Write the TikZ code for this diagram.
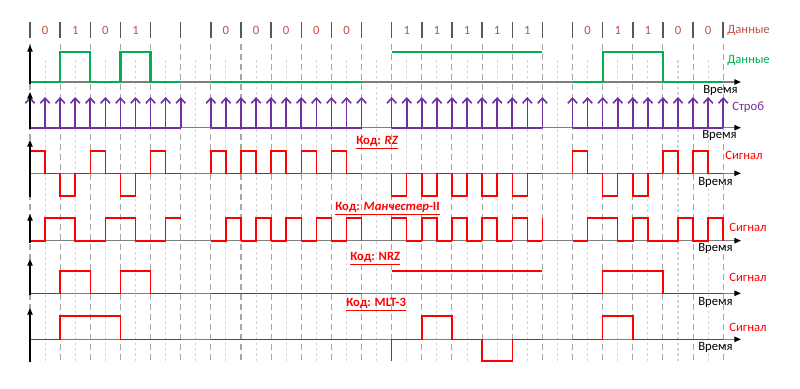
\documentclass[tikz,border=0pt]{standalone}
\usepackage{fontspec}
\setmainfont{Carlito}
\usepackage{tikz}
\usetikzlibrary{arrows.meta}
\definecolor{dataRed}{HTML}{C0504D}
\definecolor{dataGreen}{HTML}{00B050}
\definecolor{strobeViolet}{HTML}{7030A0}
\definecolor{codeRed}{HTML}{FF0000}
\definecolor{gridGray}{HTML}{A6A6A6}
\definecolor{gridLight}{HTML}{D4D4D4}
\definecolor{axisGray}{HTML}{7F7F7F}
\definecolor{tickGray}{HTML}{595959}

\begin{document}
\begin{tikzpicture}[x=0.75pt,y=-0.75pt,font=\fontsize{9.5}{11}\selectfont,
  bits/.style={x=22.605pt,xshift=22.5pt},
  majorgrid/.style={gridGray,line width=0.8pt,dash pattern=on 4.5pt off 3pt},
  minorgrid/.style={gridLight,line width=0.8pt,dash pattern=on 2pt off 2pt},
  bittick/.style={tickGray,line width=1.1pt},
  axisline/.style={axisGray,line width=1pt,-{Triangle[length=5pt,width=4pt,black]}},
  vaxis/.style={black,line width=0.8pt,-{Triangle[length=5pt,width=4pt]}},
  dataline/.style={dataGreen,line width=1.7pt},
  codeline/.style={codeRed,line width=1.1pt},
  strobearrow/.style={strobeViolet,line width=1.2pt,-{Straight Barb[length=3.8pt,width=7pt]}},
  rowlabel/.style={anchor=west,inner sep=0pt},
  codetitle/.style={rowlabel,codeRed,font=\fontsize{9.5}{11}\selectfont\bfseries},
  timelabel/.style={rowlabel,black},
  siglabel/.style={rowlabel,codeRed}]
\useasboundingbox (0,0) rectangle (800,389);
\begin{scope}[bits]
% grid
\foreach \i in {0,...,22}
  \draw[minorgrid] (\i+.5,60) -- (\i+.5,362);
\foreach \i in {0,...,23}{
  \draw[majorgrid] (\i,44) -- (\i,362);
  \draw[bittick] (\i,22) -- (\i,38);
}
% bit values
\foreach \s/\b in {0/0,1/1,2/0,3/1,6/0,7/0,8/0,9/0,10/0,12/1,13/1,14/1,15/1,16/1,18/0,19/1,20/1,21/0,22/0}
  \node[dataRed] (bit\s) at (\s+.5,30) {\b};
% axes
\foreach \y in {82,127.7,173.3,240.7,293.3,339.3}
  \draw[axisline] (0,\y) -- (23.59,\y);
% data
\draw[dataline] (0,82) -- (1,82) -- (1,52) -- (2,52) -- (2,82) -- (3,82) -- (3,52) -- (4,52) -- (4,82) -- (5,82);
\draw[dataline] (6,82) -- (11,82);
\draw[dataline] (12,52) -- (17,52);
\draw[dataline] (18,82) -- (19,82) -- (19,52) -- (21,52) -- (21,82) -- (23,82);
% strobe
\foreach \s in {0,6,12,18}{
  \draw[strobeViolet,line width=1.2pt] (\s,127.7) -- (\s+5,127.7);
  \foreach \j in {0,...,10}
    \draw[strobearrow] (\s+\j/2,127.7) -- (\s+\j/2,97);
}
% RZ
\foreach \s/\lv in {0/151,1/196,2/151,3/196,4/151,6/151,7/151,8/151,9/151,10/151,
                    12/196,13/196,14/196,15/196,16/196,18/151,19/196,20/196,21/151,22/151}
  \draw[codeline] (\s,173.3) -- (\s,\lv) -- (\s+.5,\lv) -- (\s+.5,173.3) -- (\s+1,173.3);
% Manchester-II
\draw[codeline] (0,241) -- (.5,241) -- (.5,218) -- (1.5,218) -- (1.5,241) -- (2.5,241) -- (2.5,218) -- (3.5,218) -- (3.5,241) -- (4.5,241) -- (4.5,218) -- (5,218);
\foreach \s in {6,...,10}
  \draw[codeline] (\s,241) -- (\s+.5,241) -- (\s+.5,218) -- (\s+1,218) -- (\s+1,241);
\foreach \s in {12,...,16}
  \draw[codeline] (\s,241) -- (\s,218) -- (\s+.5,218) -- (\s+.5,241) -- (\s+1,241);
\draw[codeline] (17,241) -- (17,218);
\draw[codeline] (18,241) -- (18.5,241) -- (18.5,218) -- (19.5,218) -- (19.5,241) -- (20,241) -- (20,218) -- (20.5,218) -- (20.5,241) -- (21.5,241) -- (21.5,218) -- (22,218) -- (22,241) -- (22.5,241) -- (22.5,218) -- (23,218) -- (23,241);
% NRZ
\draw[codeline] (0,293.3) -- (1,293.3) -- (1,271) -- (2,271) -- (2,293.3) -- (3,293.3) -- (3,271) -- (4,271) -- (4,293.3) -- (5,293.3);
\draw[codeline] (6,293.3) -- (11,293.3);
\draw[codeline] (12,271) -- (17,271);
\draw[codeline] (18,293.3) -- (19,293.3) -- (19,271) -- (21,271) -- (21,293.3) -- (23,293.3);
% MLT-3
\draw[codeline] (0,339.3) -- (1,339.3) -- (1,316) -- (3,316) -- (3,339.3) -- (5,339.3);
\draw[codeline] (6,339.3) -- (11,339.3);
\draw[codeline] (12,361) -- (12,339.3) -- (13,339.3) -- (13,316) -- (14,316) -- (14,339.3) -- (15,339.3) -- (15,361) -- (16,361) -- (16,339.3) -- (17,339.3);
\draw[codeline] (18,339.3) -- (19,339.3) -- (19,316) -- (20,316) -- (20,339.3) -- (23,339.3);
% vertical axes
\draw[vaxis] (0,84) -- (0,45);
\draw[vaxis] (0,129) -- (0,92);
\draw[vaxis] (0,197) -- (0,140);
\draw[vaxis] (0,243) -- (0,214);
\draw[vaxis] (0,295) -- (0,259);
\draw[vaxis] (0,362) -- (0,308);
\end{scope}
% row labels
\node[rowlabel,dataRed] (dataTop) at (727,30) {Данные};
\node[rowlabel,dataGreen] (dataRow) at (727,60) {Данные};
\node[rowlabel,strobeViolet] (strobeRow) at (732,107) {Строб};
\node[timelabel] (timeData) at (703,90) {Время};
\node[timelabel] (timeStrobe) at (702,135) {Время};
\node[timelabel] (timeRZ) at (698,182) {Время};
\node[timelabel] (timeMan) at (698,248) {Время};
\node[timelabel] (timeNRZ) at (698,302) {Время};
\node[timelabel] (timeMLT) at (698,347) {Время};
\node[siglabel] (sigRZ) at (725,155) {Сигнал};
\node[siglabel] (sigMan) at (729,227) {Сигнал};
\node[siglabel] (sigNRZ) at (729,277) {Сигнал};
\node[siglabel] (sigMLT) at (729,327) {Сигнал};
% code titles
\node[codetitle] (titleRZ) at (356,143) {\underline{Код: \textit{RZ}}};
\node[codetitle] (titleMan) at (335,209) {\underline{Код: \textit{Манчестер}-II}};
\node[codetitle] (titleNRZ) at (350,259) {\underline{Код: NRZ}};
\node[codetitle] (titleMLT) at (346,305) {\underline{Код: MLT-3}};
\end{tikzpicture}
\end{document}
